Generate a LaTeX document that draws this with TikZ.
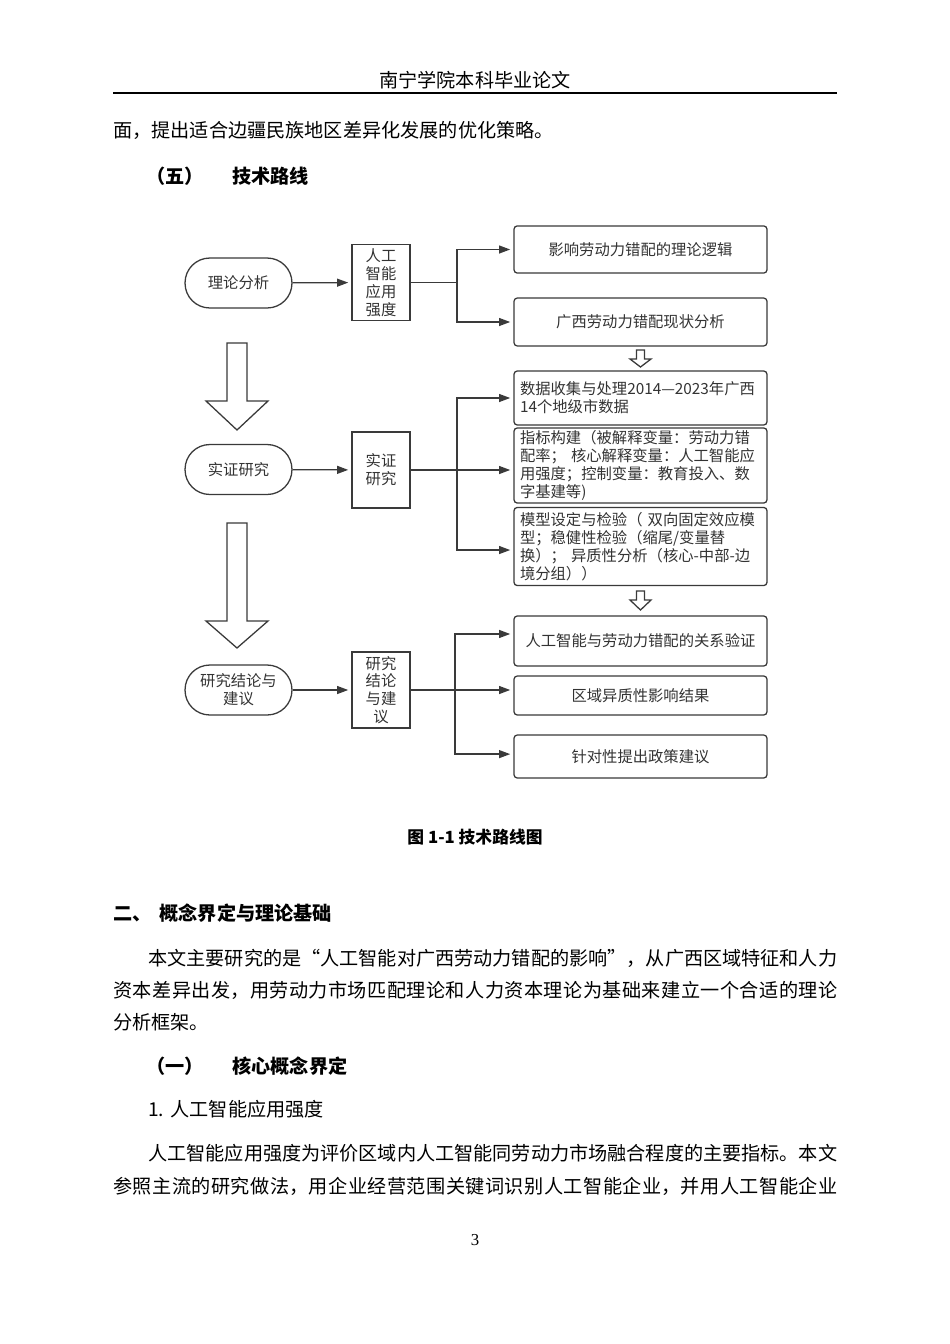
\documentclass[tikz,border=0pt]{standalone}
\usepackage{fontspec}
\setmainfont{Noto Sans CJK SC}
\newfontfamily\pagenumfont{Liberation Serif}
\usetikzlibrary{arrows.meta}
\XeTeXlinebreaklocale "zh"
\XeTeXlinebreakskip=0pt plus 2pt minus 0.6pt
\definecolor{linegray}{HTML}{3A3A3A}
\definecolor{textgray}{HTML}{333333}
\newcommand\diagfont{\fontsize{9.6}{11.2}\selectfont}
\newcommand\bodyfont{\fontsize{12}{20}\selectfont}
\newcommand\captionfont{\fontsize{10.5}{12}\selectfont\bfseries}

\begin{document}
\begin{tikzpicture}[x=0.6266pt, y=-0.6266pt,
    link/.style={draw=linegray, line width=0.8pt},
    arr/.style={link, -{Triangle[length=7pt,width=5pt]}, shorten >=2pt},
    hollow/.style={draw=linegray, line width=0.8pt, fill=white},
    pill/.style={draw=linegray, line width=0.8pt, rounded corners=15.5pt, minimum width=67pt,
      minimum height=31.3pt, align=center, font=\diagfont, text=textgray, inner sep=2pt},
    tallbox/.style={draw=linegray, line width=0.8pt, minimum width=36.3pt, minimum height=47.6pt,
      align=center, font=\diagfont, text=textgray, inner sep=1pt},
    stepbox/.style={draw=linegray, line width=0.8pt, rounded corners=2pt, minimum width=158.5pt,
      inner xsep=3.75pt, inner ysep=1pt, font=\diagfont, text=textgray},
    notebox/.style={stepbox, text width=151pt, align=left},
    bodyline/.style={anchor=west, inner sep=0pt, font=\bodyfont, align=justify},
    heading/.style={anchor=west, inner sep=0pt, font=\bodyfont\bfseries}]
  \useasboundingbox (0,0) rectangle (950,1344);
  \fill[white] (0,0) rectangle (950,1344);

  % Page header
  \node[inner sep=0pt, font=\bodyfont] (header) at (475,80) {南宁学院本科毕业论文};
  \draw[line width=1.2pt] (113,93) -- (837,93);

  % Text above the figure
  \node[bodyline] (prevline) at (113,130) {面，提出适合边疆民族地区差异化发展的优化策略。};
  \node[heading] (secfive) at (146,176) {（五）\hspace{18pt}技术路线};

  % Stage 1: theory
  \node[pill] (theory) at (238.5,283) {理论分析};
  \node[tallbox] (tbox) at (381,282.5) {人工\\智能\\应用\\强度};
  \node[stepbox, minimum height=29.5pt] (logic) at (640.5,249.5) {影响劳动力错配的理论逻辑};
  \node[stepbox, minimum height=30pt] (status) at (640.5,322) {广西劳动力错配现状分析};
  \coordinate (tsplit) at (457,282.5);
  \draw[arr] (theory) -- (tbox);
  \draw[link] (tbox) -- (tsplit);
  \draw[arr] (tsplit) |- (logic);
  \draw[arr] (tsplit) |- (status);

  % Stage 2: empirical study
  \node[pill] (empirical) at (238.5,469.5) {实证研究};
  \node[tallbox] (ebox) at (381,470) {实证\\研究};
  \node[notebox, minimum height=33.8pt] (data) at (640.5,398)
    {数据收集与处理2014—2023年广西\\14个地级市数据};
  \node[notebox, minimum height=47pt] (index) at (640.5,465.5)
    {指标构建（被解释变量：劳动力错\\配率； 核心解释变量：人工智能应\\用强度；控制变量：教育投入、数\\字基建等)};
  \node[notebox, minimum height=48.9pt] (model) at (640.5,546.5)
    {模型设定与检验（ 双向固定效应模\\型；稳健性检验（缩尾/变量替\\换）； 异质性分析（核心-中部-边\\境分组））};
  \coordinate (esplit) at (457,470);
  \draw[arr] (empirical) -- (ebox);
  \draw[arr] (ebox) -- (ebox.east -| index.west);
  \draw[arr] (esplit) |- (data);
  \draw[arr] (esplit) |- ([yshift=-2.2pt]model.west);

  % Stage 3: conclusions
  \node[pill] (conclusion) at (238.5,690) {研究结论与\\建议};
  \node[tallbox] (cbox) at (381,690) {研究\\结论\\与建\\议};
  \node[stepbox, minimum height=31.3pt] (verify) at (640.5,641) {人工智能与劳动力错配的关系验证};
  \node[stepbox, minimum height=24.4pt] (region) at (640.5,695.5) {区域异质性影响结果};
  \node[stepbox, minimum height=26.9pt] (policy) at (640.5,756.5) {针对性提出政策建议};
  \coordinate (csplit) at (455,690);
  \draw[arr] (conclusion) -- (cbox);
  \draw[arr] (cbox) -- (cbox.east -| region.west);
  \draw[arr] (csplit) |- ([yshift=4.4pt]verify.west);
  \draw[arr] (csplit) |- ([yshift=1.5pt]policy.west);

  % Big hollow arrows between the stages
  \foreach \ytop/\ybase/\ytip in {343/401/430, 523/621/648} {
    \draw[hollow] (227,\ytop) -- (247,\ytop) -- (247,\ybase) -- (268,\ybase)
      -- (237,\ytip) -- (206,\ybase) -- (227,\ybase) -- cycle;
  }

  % Small hollow arrows in the right column
  \foreach \ytop/\ybase/\ytip in {350/359/367, 591/600/610} {
    \draw[hollow] (636.5,\ytop) -- (644.5,\ytop) -- (644.5,\ybase) -- (651,\ybase)
      -- (640.5,\ytip) -- (630,\ybase) -- (636.5,\ybase) -- cycle;
  }

  % Caption
  \node[inner sep=0pt, font=\captionfont] (caption) at (475,837) {图 1-1 技术路线图};

  % Section two
  \node[heading] (sectwo) at (113,913) {二、\hspace{5pt}概念界定与理论基础};
  \node[bodyline, text width=431.7pt] (para1a) at (148,958)
    {\parfillskip=0pt\noindent 本文主要研究的是“人工智能对广西劳动力错配的影响”，从广西区域特征和人力\par};
  \node[bodyline, text width=453.7pt] (para1b) at (113,990)
    {\parfillskip=0pt\noindent 资本差异出发，用劳动力市场匹配理论和人力资本理论为基础来建立一个合适的理论\par};
  \node[bodyline] (para1c) at (113,1022) {分析框架。};

  \node[heading] (secone) at (146,1066) {（一）\hspace{18pt}核心概念界定};
  \node[anchor=west, inner sep=0pt, font=\bodyfont] (item1) at (148,1109) {1.\hspace{4pt}人工智能应用强度};
  \node[bodyline, text width=431.7pt] (para2a) at (148,1153)
    {\parfillskip=0pt\noindent 人工智能应用强度为评价区域内人工智能同劳动力市场融合程度的主要指标。本文\par};
  \node[bodyline, text width=453.7pt] (para2b) at (113,1186)
    {\parfillskip=0pt\noindent 参照主流的研究做法，用企业经营范围关键词识别人工智能企业，并用人工智能企业\par};

  % Page number
  \node[inner sep=0pt, font=\pagenumfont\fontsize{10.5}{12}\selectfont] (pagenum) at (475,1240) {3};
\end{tikzpicture}
\end{document}
